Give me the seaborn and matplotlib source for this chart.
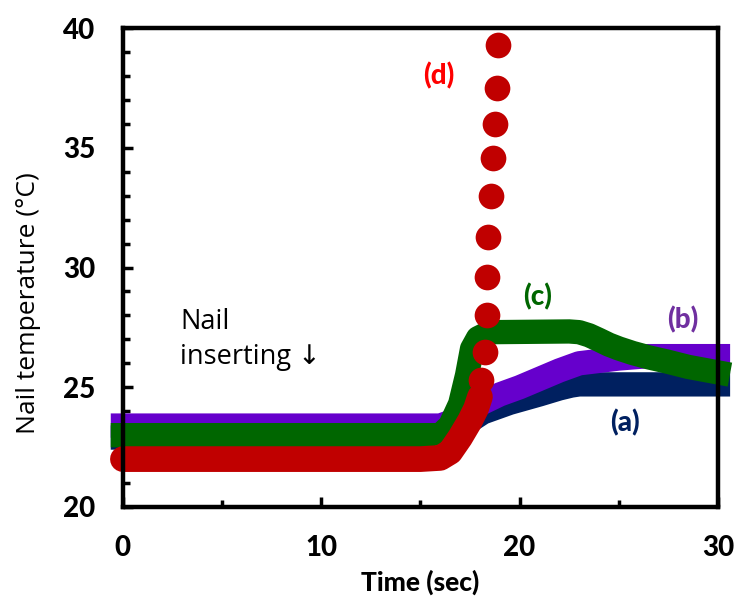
import matplotlib
matplotlib.use("Agg")
import matplotlib.pyplot as plt
from matplotlib.ticker import MultipleLocator
import seaborn as sns
import pandas as pd

# Nail temperature vs time for four cells (a)-(d)
time_a = [0, 16, 16.8, 17.5, 18.15, 19.5, 21, 22, 22.6, 23, 30]
temp_a = [22.9, 22.9, 23.2, 23.6, 23.95, 24.35, 24.7, 24.95, 25.07, 25.12, 25.12]

time_b = [0, 16, 17, 18, 19, 20, 21, 22, 23, 24, 25, 26.5, 30]
temp_b = [23.4, 23.4, 23.7, 24.3, 24.7, 25.0, 25.35, 25.7, 26.0, 26.1, 26.2, 26.3, 26.3]

time_c = [0, 16, 16.5, 17.0, 17.35, 17.6, 17.9, 18.5, 22.5, 23.0, 23.5, 24, 24.5,
          25, 25.7, 26.5, 27.4, 28.5, 30]
temp_c = [23.0, 23.0, 23.4, 24.3, 25.5, 26.6, 27.05, 27.3, 27.33, 27.3, 27.17, 26.98, 26.78,
          26.62, 26.43, 26.25, 26.08, 25.85, 25.62]

time_d = [0, 15, 16, 16.5, 17, 17.5, 17.8, 18.0,
          18.05, 18.25, 18.36, 18.36, 18.41, 18.56, 18.66, 18.76, 18.86, 18.91]
temp_d = [22.0, 22.0, 22.05, 22.3, 22.9, 23.6, 24.1, 24.6,
          25.3, 26.47, 28.0, 29.6, 31.27, 33.0, 34.57, 36.0, 37.5, 39.3]
dense_d = 8  # first points sampled densely enough to read as a band

x_ticks = [0, 10, 20, 30]
y_ticks = [20, 25, 30, 35, 40]

colors = {"a": "#002060", "b": "#6600CC", "c": "#006600", "d": "#C00000"}
label_colors = {"a": "#002060", "b": "#7030A0", "c": "#006600", "d": "#FF0000"}

sns.set_theme(style="white")
plt.rcParams["font.family"] = ["Lato", "DejaVu Sans"]
plt.rcParams.update({"text.color": "black", "axes.labelcolor": "black",
                     "xtick.color": "black", "ytick.color": "black"})
plain_font = ["Open Sans", "DejaVu Sans"]

fig = plt.figure(figsize=(7.36, 6.04), dpi=100)
ax = fig.add_axes([0.167, 0.1606, 0.8085, 0.793])

band_lw = 17.5
for t, v, key in [(time_a, temp_a, "a"), (time_b, temp_b, "b"), (time_c, temp_c, "c")]:
    df = pd.DataFrame({"t": t, "T": v})
    sns.lineplot(data=df, x="t", y="T", ax=ax, sort=False, color=colors[key],
                 linewidth=band_lw, solid_capstyle="projecting",
                 solid_joinstyle="round", clip_on=False)

df_d = pd.DataFrame({"t": time_d, "T": temp_d})
sns.lineplot(data=df_d.iloc[:dense_d], x="t", y="T", ax=ax, sort=False,
             color=colors["d"], linewidth=18.5, solid_capstyle="round",
             solid_joinstyle="round", clip_on=False)
sns.scatterplot(data=df_d.iloc[dense_d:], x="t", y="T", ax=ax, color=colors["d"],
                s=18.5 ** 2, linewidth=0, clip_on=False, zorder=5)

ax.set_xlim(0, 30)
ax.set_ylim(20, 40)
ax.set_xticks(x_ticks)
ax.set_yticks(y_ticks)
ax.xaxis.set_minor_locator(MultipleLocator(5))
ax.yaxis.set_minor_locator(MultipleLocator(1))
ax.tick_params(which="both", direction="in", color="black", width=2.5,
               left=True, bottom=True, top=False, right=False)
ax.tick_params(which="major", length=7, pad=20, labelsize=20, labelcolor="black")
ax.tick_params(which="minor", length=5)
for lab in ax.get_xticklabels() + ax.get_yticklabels():
    lab.set_fontweight(900)
for sp in ax.spines.values():
    sp.set_visible(True)
    sp.set_color("black")
    sp.set_linewidth(3.2)

ax.set_xlabel("Time (sec)", fontsize=19, fontweight=900, labelpad=6, color="black")
ax.set_ylabel("Nail temperature (°C)", fontsize=19, color="black", family=plain_font)
ax.yaxis.set_label_coords(-0.138, 0.425)

ax.text(15.9, 38.0, "(d)", color=label_colors["d"], fontsize=20,
        fontweight=900, ha="center", va="center")
ax.text(20.9, 28.8, "(c)", color=label_colors["c"], fontsize=20,
        fontweight=900, ha="center", va="center")
ax.text(28.2, 27.8, "(b)", color=label_colors["b"], fontsize=20,
        fontweight=900, ha="center", va="center")
ax.text(25.3, 23.5, "(a)", color=label_colors["a"], fontsize=20,
        fontweight=900, ha="center", va="center")
ax.text(2.9, 27.0, "Nail\ninserting ↓", color="black", fontsize=19.5,
        family=plain_font, ha="left", va="center", linespacing=1.3)

fig.savefig("out.png", dpi=100)
